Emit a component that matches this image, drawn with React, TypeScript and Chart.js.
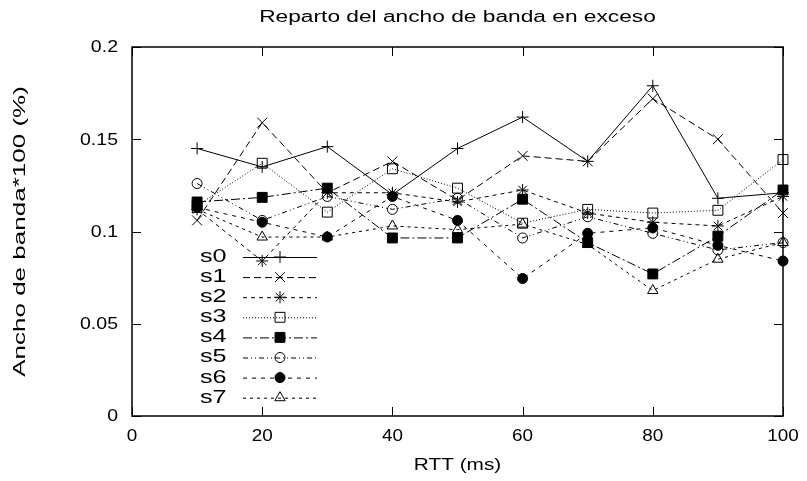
import React, { useEffect, useRef } from 'react';
import { Chart, registerables } from 'chart.js';
import { drawPoint } from 'chart.js/helpers';

Chart.register(...registerables);

// ---- data ----
const rtt = [10, 20, 30, 40, 50, 60, 70, 80, 90, 100];
const seriesNames = ['s0', 's1', 's2', 's3', 's4', 's5', 's6', 's7'];
const s0 = [0.145, 0.135, 0.146, 0.12, 0.145, 0.162, 0.138, 0.179, 0.118, 0.121];
const s1 = [0.106, 0.159, 0.121, 0.138, 0.117, 0.141, 0.138, 0.172, 0.15, 0.11];
const s2 = [0.112, 0.084, 0.121, 0.121, 0.116, 0.1225, 0.11, 0.105, 0.103, 0.119];
const s3 = [0.114, 0.137, 0.1105, 0.134, 0.1235, 0.1045, 0.112, 0.11, 0.1115, 0.139];
const s4 = [0.116, 0.1185, 0.1235, 0.0965, 0.0965, 0.1175, 0.094, 0.077, 0.0975, 0.1225];
const s5 = [0.126, 0.106, 0.119, 0.112, 0.118, 0.0965, 0.108, 0.099, 0.09, 0.094];
const s6 = [0.113, 0.105, 0.097, 0.119, 0.106, 0.0745, 0.099, 0.102, 0.0925, 0.084];
const s7 = [0.112, 0.097, 0.097, 0.103, 0.101, 0.104, 0.093, 0.068, 0.085, 0.094];
const seriesValues = [s0, s1, s2, s3, s4, s5, s6, s7];

const xTicks = [0, 20, 40, 60, 80, 100];
const xTickLabels = ['0', '20', '40', '60', '80', '100'];
const yTicks = [0, 0.05, 0.1, 0.15, 0.2];
const yTickLabels = ['0', '0.05', '0.1', '0.15', '0.2'];

const titleText = 'Reparto del ancho de banda en exceso';
const xTitleText = 'RTT (ms)';
const yTitleText = 'Ancho de banda*100 (%)';

// ---- styles ----
const pointStyles = ['cross', 'crossRot', 'star', 'rect', 'rect', 'circle', 'circle', 'triangle'];
const pointRadii = [6, 7, 6, 7, 7, 5, 5, 6];
const filled = [false, false, false, false, true, false, true, false];
const dashes = [[], [7, 4], [4, 4], [1, 2], [9, 3, 2, 3], [5, 3, 1, 3, 1, 3], [4, 5], [3, 4]];

const FONT = '"Liberation Sans", Arial, Helvetica, sans-serif';

function stretchedText(ctx: CanvasRenderingContext2D, text: string, x: number, y: number, size: number, sx: number, align: CanvasTextAlign, rot = 0) {
  ctx.save();
  ctx.translate(x, y);
  if (rot) ctx.rotate(rot);
  ctx.scale(sx, 1);
  ctx.font = `${size}px ${FONT}`;
  ctx.fillStyle = '#000';
  ctx.textAlign = align;
  ctx.textBaseline = 'middle';
  ctx.fillText(text, 0, 0);
  ctx.restore();
}

const decorPlugin = {
  id: 'decor',
  afterDraw(chart: any) {
    const ctx: CanvasRenderingContext2D = chart.ctx;
    const { left, right, top, bottom } = chart.chartArea;
    const xs = chart.scales.x;
    const ys = chart.scales.y;
    ctx.save();
    ctx.strokeStyle = '#000';
    ctx.lineWidth = 1.5;
    ctx.setLineDash([]);
    ctx.strokeRect(left, top, right - left, bottom - top);
    ctx.lineWidth = 1;
    const tl = 9;
    ctx.beginPath();
    yTicks.forEach((v) => {
      const py = Math.round(ys.getPixelForValue(v)) + 0.5;
      ctx.moveTo(left, py); ctx.lineTo(left + tl, py);
      ctx.moveTo(right, py); ctx.lineTo(right - tl, py);
    });
    xTicks.forEach((v) => {
      const px = Math.round(xs.getPixelForValue(v)) + 0.5;
      ctx.moveTo(px, bottom); ctx.lineTo(px, bottom - tl);
      ctx.moveTo(px, top); ctx.lineTo(px, top + tl);
    });
    ctx.stroke();

    // tick labels
    yTicks.forEach((v, i) => {
      stretchedText(ctx, yTickLabels[i], left - 14, ys.getPixelForValue(v) + 1, 16, 1.22, 'right');
    });
    xTicks.forEach((v, i) => {
      stretchedText(ctx, xTickLabels[i], xs.getPixelForValue(v), bottom + 21, 16, 1.18, 'center');
    });

    // titles
    const cx = (left + right) / 2;
    stretchedText(ctx, titleText, cx, 18, 16, 1.42, 'center');
    stretchedText(ctx, xTitleText, cx, 466, 16, 1.3, 'center');
    stretchedText(ctx, yTitleText, 20, (top + bottom) / 2, 17, 1.53, 'center', -Math.PI / 2);

    // legend
    chart.data.datasets.forEach((ds: any, i: number) => {
      const ry = 257 + i * 20.1;
      stretchedText(ctx, ds.label, 200, ry, 18, 1.4, 'left');
      ctx.save();
      ctx.strokeStyle = '#000';
      ctx.lineWidth = 1;
      ctx.setLineDash(ds.borderDash || []);
      ctx.beginPath();
      ctx.moveTo(243, ry + 0.5);
      ctx.lineTo(317, ry + 0.5);
      ctx.stroke();
      ctx.setLineDash([]);
      ctx.fillStyle = ds.pointBackgroundColor;
      ctx.strokeStyle = '#000';
      drawPoint(ctx, { pointStyle: ds.pointStyle, radius: ds.pointRadius, rotation: 0, borderWidth: 1 }, 280, ry);
      ctx.restore();
    });
    ctx.restore();
  },
};

export default function App() {
  const ref = useRef<HTMLCanvasElement>(null);
  useEffect(() => {
    if (!ref.current) return;
    const datasets = seriesNames.map((name, i) => ({
      label: name,
      data: rtt.map((x, j) => ({ x, y: seriesValues[i][j] })),
      borderColor: '#000',
      borderWidth: 1,
      borderDash: dashes[i],
      pointStyle: pointStyles[i],
      pointRadius: pointRadii[i],
      pointBorderWidth: 1,
      pointBorderColor: '#000',
      pointBackgroundColor: filled[i] ? '#000' : 'rgba(0,0,0,0)',
      fill: false,
      tension: 0,
      clip: false as any,
    }));
    const chart = new Chart(ref.current, {
      type: 'line',
      data: { datasets },
      options: {
        animation: false,
        responsive: false,
        devicePixelRatio: 1,
        layout: { padding: { top: 47, right: 24, left: 0, bottom: 0 } },
        plugins: { legend: { display: false }, title: { display: false }, tooltip: { enabled: false } },
        scales: {
          x: {
            type: 'linear',
            min: 0,
            max: 100,
            afterBuildTicks: (s: any) => { s.ticks = xTicks.map((v) => ({ value: v })); },
            afterFit: (s: any) => { s.height = 65; },
            ticks: { display: false },
            grid: { display: false, drawTicks: false },
            border: { display: false },
          },
          y: {
            type: 'linear',
            min: 0,
            max: 0.2,
            afterBuildTicks: (s: any) => { s.ticks = yTicks.map((v) => ({ value: v })); },
            afterFit: (s: any) => { s.width = 132; },
            ticks: { display: false },
            grid: { display: false, drawTicks: false },
            border: { display: false },
          },
        },
      },
      plugins: [decorPlugin],
    });
    return () => chart.destroy();
  }, []);
  return (
    <div style={{ position: 'fixed', left: 0, top: 0, width: 807, height: 481, background: '#fff' }}>
      <canvas ref={ref} width={807} height={481} style={{ width: 807, height: 481, display: 'block' }} />
    </div>
  );
}
